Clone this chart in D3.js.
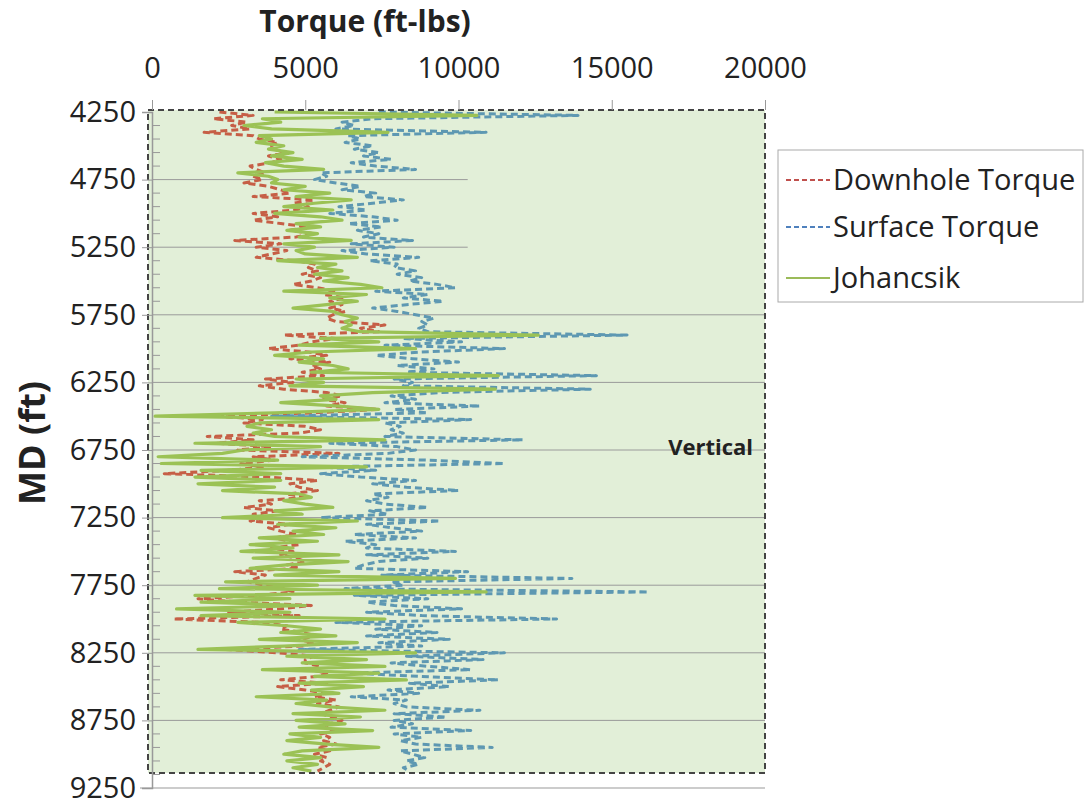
<!DOCTYPE html>
<html>
<head>
<meta charset="utf-8">
<script src="https://cdn.jsdelivr.net/npm/d3@7"></script>
<style>
  body { margin: 0; background: #fff; }
  text { font-family: "Open Sans", sans-serif; fill: #222; }
</style>
</head>
<body>
<div id="chart"></div>
<script>
// Measured depth sampling (ft)
const mdStart = 4250;
const mdStep = 25;

// Torque readings (ft-lbs), one per depth step
const downhole = [
  2200, 3300, 2000, 3100, 2600, 3200, 1700, 3300,
  3500, 4100, 3900, 4000, 4300, 3800, 4200, 3900,
  3200, 3400, 3700, 3300, 3600, 3000, 3800, 4200,
  4500, 3300, 5300, 4600, 5100, 4700, 3300, 4100,
  3300, 4200, 5100, 4500, 5300, 4700, 2700, 4200,
  3400, 4400, 3900, 3400, 4700, 5300, 5100, 5400,
  4900, 5500, 5200, 4600, 5400, 6000, 5600, 6300,
  5800, 6200, 5800, 6300, 5900, 5700, 6000, 7600,
  6800, 7400, 4300, 6000, 5200, 4800, 3800, 5100,
  5700, 4500, 5800, 5200, 5500, 4900, 5600, 3700,
  4600, 3500, 4300, 5700, 6200, 5600, 6300, 5700,
  7400, 5300, 2200, 3600, 3000, 5000, 5500, 4800,
  1800, 3300, 2100, 3900, 2800, 6100, 3300, 4000,
  2900, 3600, 2600, 400, 3800, 5400, 4500, 4800,
  5400, 4400, 5100, 3500, 3900, 3000, 4100, 3300,
  3800, 3200, 4500, 3800, 4200, 4700, 4000, 4500,
  4800, 3900, 4600, 4200, 4700, 5000, 4400, 4800,
  2700, 3700, 3400, 3100, 3700, 4300, 4600, 3500,
  1500, 2800, 5200, 4200, 2500, 4800, 700, 3600,
  4400, 4200, 4900, 5400, 4700, 5300, 4900, 2400,
  4100, 5300, 5000, 5000, 5500, 5200, 5700, 5400,
  4200, 5700, 4100, 5000, 5700, 5300, 6000, 5400,
  6100, 5800, 5500, 5900, 6200, 5800, 5600, 6000,
  5500, 5800, 5600, 6000, 5400, 5800, 5300, 5700,
  5500, 5800, 5600, 5400
];

const surface = [
  7400, 13900, 7200, 6200, 6600, 6000, 10900, 6400,
  6800, 6300, 7200, 6600, 7400, 6900, 7800, 6500,
  7300, 8600, 5500, 5700, 5300, 6000, 6800, 6200,
  7300, 6900, 8200, 7200, 6100, 7000, 5800, 7200,
  8000, 6400, 7500, 6700, 7400, 6900, 8500, 6500,
  7900, 6200, 7000, 8700, 7100, 8000, 7900, 8600,
  8000, 8800, 8400, 9300, 9900, 7300, 9000, 8200,
  9500, 8300, 7200, 8000, 8600, 9200, 8800, 9000,
  8700, 9000, 15500, 8200, 10100, 7600, 11500, 8800,
  7300, 8500, 10000, 8000, 9200, 8300, 14500, 7900,
  8500, 8200, 14300, 9400, 7800, 8600, 7600, 10700,
  7900, 9000, 3900, 10400, 7600, 8100, 7800, 8200,
  7600, 12100, 5800, 8000, 8600, 7700, 4900, 9000,
  11500, 5500, 7300, 5500, 6800, 8600, 7200, 8300,
  10000, 7200, 7700, 7000, 7600, 9000, 7100, 7700,
  5500, 9400, 7000, 7800, 8800, 6600, 8600, 6300,
  7300, 7000, 9900, 7000, 9000, 7400, 6900, 6600,
  10300, 7500, 13700, 7800, 8200, 6300, 16200, 6600,
  9000, 7000, 7900, 10100, 7000, 8800, 13200, 6000,
  8800, 7300, 9300, 7000, 9700, 7400, 8800, 4800,
  11500, 8300, 10800, 7800, 9000, 10400, 6500, 8800,
  11300, 8400, 9700, 7700, 8700, 6500, 8300, 7900,
  8300, 10700, 7900, 9600, 7900, 8500, 7800, 10400,
  7900, 8800, 8100, 8600, 11100, 8100, 8500, 8900,
  8300, 8700, 8200, 8400
];

const johancsik = [
  4000, 10600, 3600, 4200, 3000, 3900, 7700, 3500,
  3900, 3400, 4300, 3800, 4600, 3900, 4900, 3700,
  4300, 5600, 2800, 3800, 4100, 3900, 5000, 4300,
  5800, 4700, 6500, 5300, 4300, 5900, 4000, 5500,
  6200, 4700, 5500, 4400, 5400, 4800, 6500, 4300,
  5300, 4700, 5000, 6700, 4100, 6000, 5400, 6200,
  5300, 6400, 5600, 6800, 7500, 4300, 7000, 5800,
  6700, 5700, 4600, 5900, 6200, 6700, 6300, 6500,
  6200, 6800, 12600, 5500, 7400, 4800, 8600, 5200,
  4000, 5600, 4800, 5900, 6400, 5200, 11300, 4700,
  5600, 4500, 11200, 7200, 5500, 6000, 4200, 6100,
  7400, 4000, 100, 7400, 3500, 3100, 3900, 3300,
  4000, 7600, 1400, 5500, 3000, 2300, 200, 4100,
  300, 7000, 1600, 4200, 1400, 4200, 1500, 4000,
  2300, 4800, 5200, 4300, 5000, 5900, 4000, 4900,
  2300, 6700, 4100, 6000, 4600, 5600, 3500, 5400,
  3200, 4600, 2900, 6100, 3300, 6400, 4400, 3200,
  6100, 4000, 9900, 2400, 5400, 2200, 10900, 1400,
  4500, 1600, 5000, 800, 4500, 1600, 7600, 2800,
  4400, 5500, 4200, 6000, 3500, 6700, 4300, 1500,
  8600, 4400, 7000, 4900, 7600, 3600, 7400, 5300,
  8300, 4800, 6900, 5200, 6100, 3400, 5700, 4700,
  5800, 7600, 4600, 6800, 4700, 6300, 4800, 7200,
  4500, 5500, 4400, 5700, 7400, 4900, 4300, 5500,
  4400, 5400, 4600, 5200
];

const xTicks = [0, 5000, 10000, 15000, 20000];
const yTicks = [4250, 4750, 5250, 5750, 6250, 6750, 7250, 7750, 8250, 8750, 9250];
// gridlines: depth and how far they reach (ft-lbs)
const gridDepths = [4750, 5250, 5750, 6250, 6750, 7250, 7750, 8250, 8750];
const gridReach  = [10300, 10300, 20000, 20000, 20000, 20000, 20000, 20000, 20000];

const seriesNames = ["Downhole Torque", "Surface Torque", "Johancsik"];
const seriesColors = ["#c65f46", "#5e98b2", "#9bc255"];
const legendColors = ["#c0504d", "#4f81bd", "#9bbb59"];

const width = 1086, height = 806;
const plotLeft = 148, plotRight = 765, plotTop = 110, plotBottom = 773;

const x = d3.scaleLinear().domain([0, 20000]).range([152, 765]);
const y = d3.scaleLinear().domain([4250, 9250]).range([112, 788]);

const svg = d3.select("#chart").append("svg")
  .attr("width", width)
  .attr("height", height);

// plot area
svg.append("rect")
  .attr("x", plotLeft).attr("y", plotTop)
  .attr("width", plotRight - plotLeft).attr("height", plotBottom - plotTop)
  .attr("fill", "#e2efd8");

// gridlines
svg.append("g").selectAll("line")
  .data(gridDepths)
  .join("line")
  .attr("x1", x(0))
  .attr("x2", (d, i) => x(gridReach[i]))
  .attr("y1", d => y(d)).attr("y2", d => y(d))
  .attr("stroke", "#9a9a9a")
  .attr("stroke-width", 1);

// bottom line at 9250
svg.append("line")
  .attr("x1", 140).attr("x2", x(20000))
  .attr("y1", y(9250)).attr("y2", y(9250))
  .attr("stroke", "#bbb").attr("stroke-width", 1.5);

// series
const mk = vals => vals.map((v, i) => ({ md: mdStart + i * mdStep, t: v }));
const line = d3.line().x(d => x(d.t)).y(d => y(d.md));

const series = [
  { vals: downhole, color: seriesColors[0], dash: "7,4", w: 3 },
  { vals: surface, color: seriesColors[1], dash: "7,4", w: 3 },
  { vals: johancsik, color: seriesColors[2], dash: null, w: 3.2 }
];

series.forEach(s => {
  svg.append("path")
    .datum(mk(s.vals))
    .attr("fill", "none")
    .attr("stroke", s.color)
    .attr("stroke-width", s.w)
    .attr("stroke-dasharray", s.dash)
    .attr("stroke-linejoin", "round")
    .attr("d", line);
});

// plot border (dashed)
svg.append("rect")
  .attr("x", plotLeft).attr("y", plotTop)
  .attr("width", plotRight - plotLeft).attr("height", plotBottom - plotTop)
  .attr("fill", "none")
  .attr("stroke", "#444")
  .attr("stroke-width", 2)
  .attr("stroke-dasharray", "6,4");

// Y axis
const yAxis = svg.append("g")
  .attr("transform", `translate(${x(0)},0)`)
  .call(d3.axisLeft(y).tickValues(yTicks).tickSize(10).tickPadding(6).tickFormat(d3.format("d")));
yAxis.select(".domain").attr("stroke", "#999").attr("stroke-width", 1.5);
yAxis.selectAll(".tick line").attr("stroke", "#999");
yAxis.selectAll(".tick text")
  .style("font-family", "'Open Sans', sans-serif")
  .style("font-size", "29px")
  .attr("fill", "#222");

// minor ticks every 100 ft, inside
svg.append("g").selectAll("line")
  .data(d3.range(4350, 9250, 100).filter(d => (d - 4250) % 500 !== 0))
  .join("line")
  .attr("x1", x(0)).attr("x2", x(0) + 8)
  .attr("y1", d => y(d)).attr("y2", d => y(d))
  .attr("stroke", "#999");

// X axis on top
const xAxis = svg.append("g")
  .attr("transform", `translate(0,${plotTop})`)
  .call(d3.axisTop(x).tickValues(xTicks).tickSize(10).tickPadding(22).tickFormat(d3.format("d")));
xAxis.select(".domain").remove();
xAxis.selectAll(".tick line").attr("stroke", "#999");
xAxis.selectAll(".tick text")
  .style("font-family", "'Open Sans', sans-serif")
  .style("font-size", "29px")
  .attr("fill", "#222");

// titles
svg.append("text")
  .attr("x", 365).attr("y", 32)
  .attr("text-anchor", "middle")
  .style("font-size", "30px").style("font-weight", "bold")
  .text("Torque (ft-lbs)");

svg.append("text")
  .attr("transform", "translate(45,443) rotate(-90)")
  .attr("text-anchor", "middle")
  .style("font-size", "36px").style("font-weight", "bold")
  .text("MD (ft)");

svg.append("text")
  .attr("x", 753).attr("y", 455)
  .attr("text-anchor", "end")
  .style("font-size", "22px").style("font-weight", "bold")
  .text("Vertical");

// legend
const legend = svg.append("g");
legend.append("rect")
  .attr("x", 778).attr("y", 150).attr("width", 305).attr("height", 152)
  .attr("fill", "#fff").attr("stroke", "#aaa");

const ly = [180, 227, 278];
seriesNames.forEach((name, i) => {
  legend.append("line")
    .attr("x1", 786).attr("x2", 830)
    .attr("y1", ly[i]).attr("y2", ly[i])
    .attr("stroke", legendColors[i])
    .attr("stroke-width", 2)
    .attr("stroke-dasharray", i < 2 ? "5,3" : null);
  legend.append("text")
    .attr("x", 833).attr("y", ly[i] + 10)
    .style("font-size", "29px")
    .text(name);
});
</script>
</body>
</html>
